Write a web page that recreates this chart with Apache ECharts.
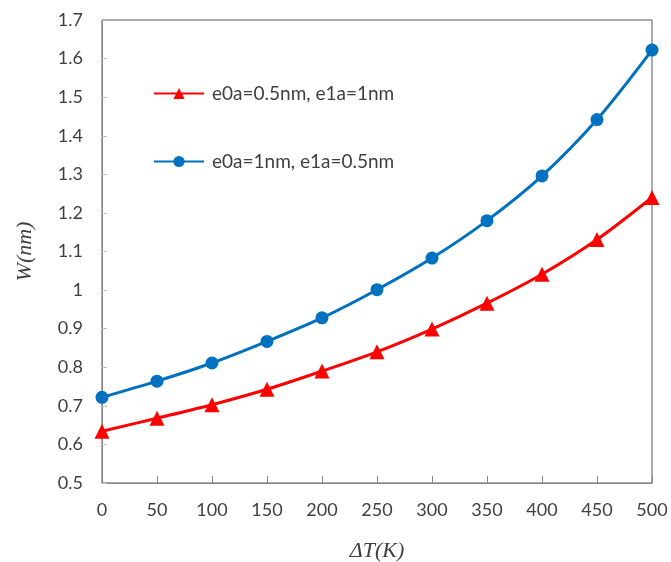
<!DOCTYPE html>
<html><head><meta charset="utf-8">
<script src="https://cdn.jsdelivr.net/npm/echarts@6/dist/echarts.min.js"></script>
<style>html,body{margin:0;padding:0;background:#fff}#c{width:671px;height:562px}</style>
</head><body><div id="c"></div>
<script>
const deltaT = [0, 50, 100, 150, 200, 250, 300, 350, 400, 450, 500];
const seriesRed = [0.634, 0.668, 0.703, 0.743, 0.790, 0.840, 0.899, 0.966, 1.041, 1.131, 1.240];
const seriesBlue = [0.722, 0.764, 0.811, 0.867, 0.928, 1.001, 1.083, 1.180, 1.296, 1.442, 1.622];
const nameRed = 'e0a=0.5nm, e1a=1nm';
const nameBlue = 'e0a=1nm, e1a=0.5nm';

const chart = echarts.init(document.getElementById('c'), null, {renderer: 'canvas'});
const labelFont = {fontFamily: 'Lato, "Open Sans", sans-serif', fontSize: 18, color: '#404040'};
chart.setOption({
  animation: false,
  grid: {left: 102, right: 19, top: 20, bottom: 79, outerBoundsMode: 'none', containLabel: false,
         show: true, borderColor: '#595959', borderWidth: 1},
  legend: {
    left: 153, top: 84, padding: 0, orient: 'vertical', itemGap: 49, itemWidth: 50, itemHeight: 14,
    textStyle: {fontFamily: 'Lato, "Open Sans", sans-serif', fontSize: 19, color: '#404040', padding: [0, 0, 0, 3]},
    data: [nameRed, nameBlue]
  },
  xAxis: {
    type: 'value', min: 0, max: 500, interval: 50,
    name: 'ΔT(K)', nameLocation: 'middle', nameGap: 57,
    nameTextStyle: {fontFamily: '"Liberation Serif", "DejaVu Serif", serif', fontStyle: 'italic', fontSize: 22, color: '#404040'},
    axisLine: {lineStyle: {color: '#868686', width: 1}},
    axisTick: {inside: true, length: 7, lineStyle: {color: '#868686'}},
    axisLabel: Object.assign({margin: 18}, labelFont),
    splitLine: {show: false}
  },
  yAxis: {
    type: 'value', min: 0.5, max: 1.7, interval: 0.1,
    name: 'W(nm)', nameLocation: 'middle', nameGap: 66,
    nameTextStyle: {fontFamily: '"Liberation Serif", "DejaVu Serif", serif', fontStyle: 'italic', fontSize: 22, color: '#404040'},
    axisLine: {show: true, lineStyle: {color: '#868686', width: 1}},
    axisTick: {show: true, inside: true, length: 5, lineStyle: {color: '#c0c0c0'}},
    axisLabel: Object.assign({margin: 19, formatter: v => String(Math.round(v * 10) / 10)}, labelFont),
    splitLine: {show: false}
  },
  series: [
    {name: nameRed, type: 'line', smooth: 0.3, data: deltaT.map((x, i) => [x, seriesRed[i]]),
     symbol: 'triangle', symbolSize: 15, lineStyle: {color: '#FF0000', width: 3},
     itemStyle: {color: '#FF0000'}},
    {name: nameBlue, type: 'line', smooth: 0.3, data: deltaT.map((x, i) => [x, seriesBlue[i]]),
     symbol: 'circle', symbolSize: 13, lineStyle: {color: '#0070C0', width: 3},
     itemStyle: {color: '#0070C0'}}
  ]
});
</script></body></html>
